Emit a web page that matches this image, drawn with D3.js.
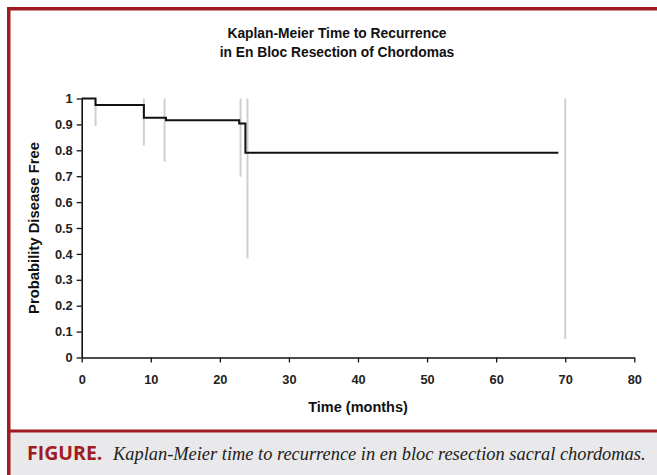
<!DOCTYPE html>
<html>
<head>
<meta charset="utf-8">
<script src="https://cdn.jsdelivr.net/npm/d3@7"></script>
<style>
  html, body { margin: 0; padding: 0; background: #fff; }
  svg { display: block; }
</style>
</head>
<body>
<script>
// ---- data ----
const stepTimes = [0, 2, 9, 12.2, 22.8, 23.7, 69];
const stepValues = [1, 0.975, 0.926, 0.916, 0.903, 0.791, 0.791];
const censorTimes = [2, 9, 12, 23, 24, 70];
const censorLows = [0.894, 0.818, 0.756, 0.698, 0.383, 0.071];
const censorHighs = [1, 1, 1, 1, 1, 1];
const xTicks = [0, 10, 20, 30, 40, 50, 60, 70, 80];
const yTicks = [0, 0.1, 0.2, 0.3, 0.4, 0.5, 0.6, 0.7, 0.8, 0.9, 1];
const titleLines = ["Kaplan-Meier Time to Recurrence", "in En Bloc Resection of Chordomas"];
const xLabel = "Time (months)";
const yLabel = "Probability Disease Free";
const captionLead = "FIGURE.";
const captionText = "Kaplan-Meier time to recurrence in en bloc resection sacral chordomas.";

const W = 657, H = 475;
const red = "#a01c22";
const svg = d3.select("body").append("svg").attr("width", W).attr("height", H);

// frame
svg.append("rect").attr("x", 0).attr("y", 0).attr("width", W).attr("height", H).attr("fill", "#fff");
svg.append("rect").attr("x", 9).attr("y", 432).attr("width", W - 9).attr("height", H - 432).attr("fill", "#e9e9eb");
svg.append("rect").attr("x", 7).attr("y", 7).attr("width", W - 7).attr("height", 3.5).attr("fill", red);
svg.append("rect").attr("x", 7).attr("y", 7).attr("width", 3.5).attr("height", H - 7).attr("fill", red);
svg.append("rect").attr("x", 7).attr("y", 429.5).attr("width", W - 7).attr("height", 3).attr("fill", red);

const x = d3.scaleLinear().domain([0, 80]).range([81.7, 634.3]);
const y = d3.scaleLinear().domain([0, 1]).range([357.5, 98.5]);

const font = "Liberation Sans, Arial, sans-serif";

// title
svg.append("g").selectAll("text").data(titleLines).join("text")
  .attr("x", 337).attr("y", (d, i) => 38 + i * 19)
  .attr("text-anchor", "middle")
  .attr("font-family", font)
  .attr("font-weight", "bold").attr("font-size", 13.8).attr("fill", "#111")
  .text(d => d);

// censor / gray lines
svg.append("g").selectAll("line").data(censorTimes).join("line")
  .attr("x1", d => x(d)).attr("x2", d => x(d))
  .attr("y1", (d, i) => y(censorHighs[i])).attr("y2", (d, i) => y(censorLows[i]))
  .attr("stroke", "#cfcfcf").attr("stroke-width", 2);

// step curve
const pts = stepTimes.map((t, i) => [t, stepValues[i]]);
const line = d3.line().x(d => x(d[0])).y(d => y(d[1])).curve(d3.curveStepAfter);
svg.append("path").datum(pts).attr("d", line)
  .attr("fill", "none").attr("stroke", "#111").attr("stroke-width", 2);

// axes
const xAxis = svg.append("g").attr("transform", `translate(0,${y(0)})`)
  .call(d3.axisBottom(x).tickValues(xTicks).tickSize(5).tickSizeOuter(0).tickPadding(12));
const yAxis = svg.append("g").attr("transform", `translate(${x(0)},0)`)
  .call(d3.axisLeft(y).tickValues(yTicks).tickSize(5).tickSizeOuter(0).tickPadding(4)
    .tickFormat(d => d3.format("")(+d.toFixed(1))));
[xAxis, yAxis].forEach(g => {
  g.select(".domain").attr("stroke", "#111").attr("stroke-width", 1.6);
  g.selectAll(".tick line").attr("stroke", "#111").attr("stroke-width", 1.3);
  g.selectAll(".tick text").attr("font-family", font).attr("font-weight", "bold")
    .attr("font-size", 12.8).attr("fill", "#222");
});

svg.append("text").attr("x", x(40)).attr("y", 412).attr("text-anchor", "middle")
  .attr("font-family", font).attr("font-weight", "bold").attr("font-size", 14.5).attr("fill", "#111")
  .text(xLabel);
svg.append("text").attr("transform", `translate(39,${y(0.5)}) rotate(-90)`).attr("text-anchor", "middle")
  .attr("font-family", font).attr("font-weight", "bold").attr("font-size", 14.8).attr("fill", "#111")
  .text(yLabel);

// caption
const cap = svg.append("text").attr("x", 27).attr("y", 460);
cap.append("tspan").attr("font-family", "Open Sans, Noto Sans, sans-serif").attr("font-weight", "bold")
  .attr("font-size", 19.5).attr("fill", red).text(captionLead);
cap.append("tspan").attr("x", 113).attr("font-family", "Liberation Serif, DejaVu Serif, serif").attr("font-style", "italic")
  .attr("font-size", 18.4).attr("fill", "#222").text(captionText);
</script>
</body>
</html>
